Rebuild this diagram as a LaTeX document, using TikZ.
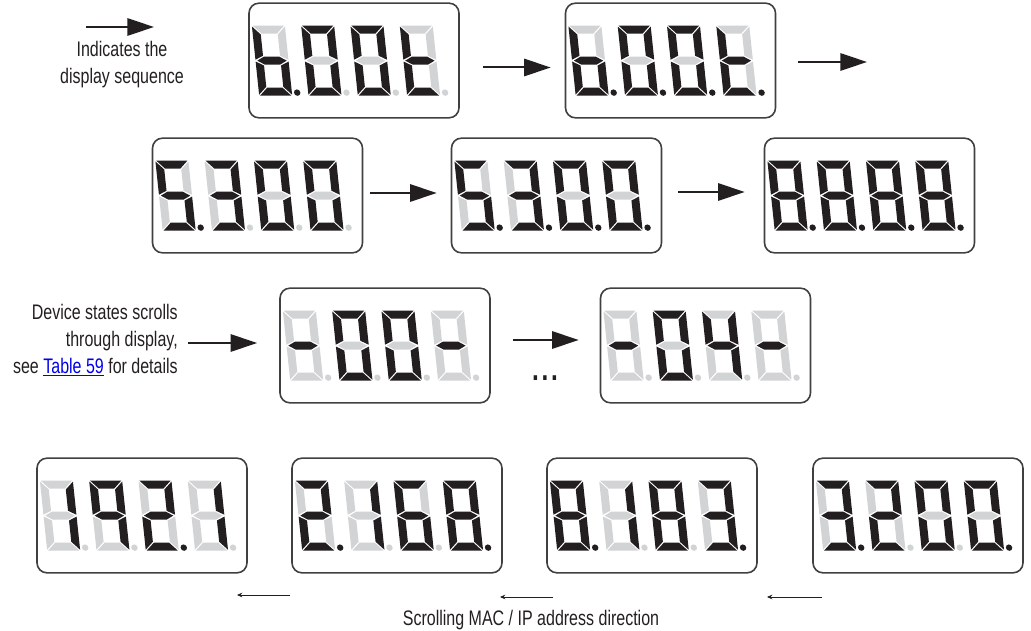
\documentclass[tikz,border=0pt]{standalone}
\usepackage{fontspec}
\setmainfont{Liberation Sans}[FakeStretch=0.76]
\usetikzlibrary{arrows.meta,calc}
\definecolor{segon}{HTML}{231F20}
\definecolor{segoff}{HTML}{D1D3D4}
\definecolor{boxline}{HTML}{404041}
\definecolor{linkblue}{HTML}{0000EE}
\tikzset{
  s0/.style={fill=segoff},
  s1/.style={fill=segon},
  dispbox/.style={draw=boxline, line width=1.2pt, rounded corners=7.5pt,
    minimum width=157.5pt, minimum height=86pt, inner sep=0pt},
  seqarrow/.style={draw=segon, line width=1.5pt, -{Triangle[length=20pt,width=13pt]}},
  thinarrow/.style={draw=segon, line width=0.6pt, -{Stealth[length=4pt,width=3.5pt]}},
  lbl/.style={font=\fontsize{15.8}{20.25}\selectfont, text=segon, inner sep=0pt},
}
\newcommand\ssdig[9]{%
  \begin{scope}[shift={(11+49.3*#1,-23)},yscale=-1,xslant=0.105]
    \fill[s#2] (0.9,70)--(32.1,70)--(24.1,62)--(8.9,62)--cycle;
    \fill[s#3] (33,69.1)--(25,61.1)--(25,39.9)--(33,35.9)--cycle;
    \fill[s#4] (33,0.9)--(25,8.9)--(25,30.1)--(33,34.1)--cycle;
    \fill[s#5] (0.9,0)--(32.1,0)--(24.1,8)--(8.9,8)--cycle;
    \fill[s#6] (0,0.9)--(8,8.9)--(8,30.1)--(0,34.1)--cycle;
    \fill[s#7] (0,69.1)--(8,61.1)--(8,39.9)--(0,35.9)--cycle;
    \fill[s#8] (1.8,35)--(8.9,39)--(24.1,39)--(31.2,35)--(24.1,31)--(8.9,31)--cycle;
    \fill[s#9] (38.3,3) circle[radius=3.2];
  \end{scope}}
\newcommand\ssdisp[6]{%
  \node[dispbox] (#1) at #2 {};
  \begin{scope}[shift={(#1.south west)}]
    \ssdig0#3\ssdig1#4\ssdig2#5\ssdig3#6
  \end{scope}}
\begin{document}
\begin{tikzpicture}[x=0.75pt,y=-0.75pt]
\useasboundingbox (0,0) rectangle (1031,631);

% legend
\coordinate (leg1) at (86,27);
\coordinate (leg2) at (154,27);
\draw[seqarrow] (leg1) -- (leg2);
\node[lbl, align=center] (legtxt) at (122,65) {Indicates the\\display sequence};

% row 1
\ssdisp{A}{(354,60.5)}{00111111}{11111100}{11111100}{00011110}
\ssdisp{B}{(670.5,60.5)}{00111111}{11111101}{11111101}{00011111}
\coordinate (bout) at (867,62);
\draw[seqarrow] ($(A.east)+(23,7)$) -- ($(B.west)+(-14,7)$);
\draw[seqarrow] ($(B.east)+(22,1.5)$) -- (bout);

% row 2
\ssdisp{C}{(257.5,195.5)}{10110111}{11110010}{11111100}{11111100}
\ssdisp{D}{(556.5,195.5)}{10110111}{11110011}{11111101}{11111101}
\ssdisp{E}{(869.5,195.5)}{11111111}{11111111}{11111111}{11111111}
\draw[seqarrow] ($(C.east)+(7,-2.5)$) -- ($(D.west)+(-14,-2.5)$);
\draw[seqarrow] ($(D.east)+(16,-3.5)$) -- ($(E.west)+(-19,-3.5)$);

% row 3
\node[lbl, align=right, anchor=east] (devtxt) at (178,340)
  {Device states scrolls\\through display,\\see \textcolor{linkblue}{\underline{Table 59}} for details};
\ssdisp{F}{(385,345.5)}{00000010}{11111100}{11111100}{00000010}
\ssdisp{G}{(705.5,345.5)}{00000010}{11111100}{01100110}{00000010}
\draw[seqarrow] ($(devtxt.east)+(10,3)$) -- ($(F.west)+(-22,-2.5)$);
\draw[seqarrow] ($(F.east)+(22,-5.5)$) -- ($(G.west)+(-21,-5.5)$);
\node[lbl, font=\fontsize{24}{24}\bfseries] (dots) at (545,378) {.\hspace{2pt}.\hspace{2pt}.};

% row 4
\ssdisp{H}{(142,515.5)}{01100000}{11100110}{11011011}{01100000}
\ssdisp{I}{(397,515.5)}{11011011}{01100000}{10111110}{11111111}
\ssdisp{J}{(652,515.5)}{11111111}{01100000}{11111110}{11110011}
\ssdisp{K}{(918,515.5)}{11110011}{11011010}{11111100}{11111101}
\coordinate (r1s) at (290,595);
\coordinate (r1e) at (237,595);
\coordinate (r2s) at (553,597);
\coordinate (r2e) at (500,597);
\coordinate (r3s) at (822,597);
\coordinate (r3e) at (767,597);
\draw[thinarrow] (r1s) -- (r1e);
\draw[thinarrow] (r2s) -- (r2e);
\draw[thinarrow] (r3s) -- (r3e);
\node[lbl] (scrolltxt) at (531,620) {Scrolling MAC / IP address direction};
\end{tikzpicture}
\end{document}
